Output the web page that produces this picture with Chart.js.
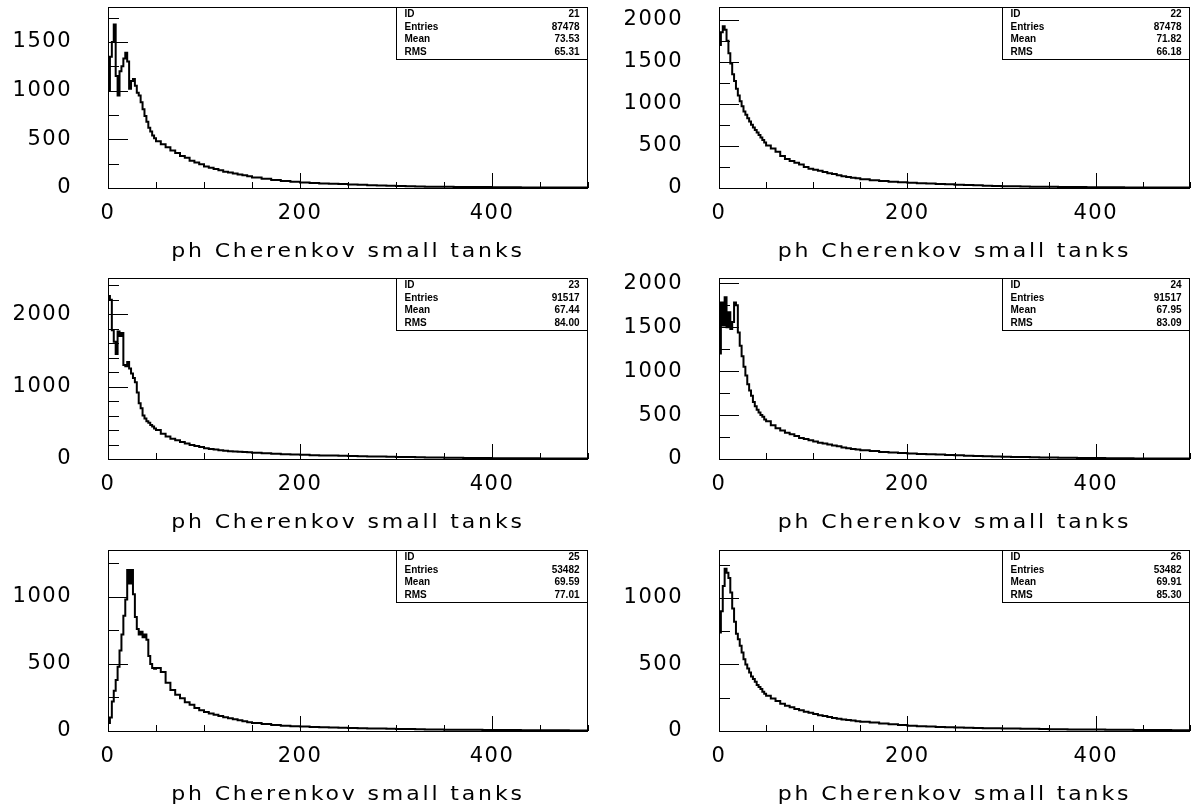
<!DOCTYPE html>
<html>
<head>
<meta charset="utf-8">
<script src="https://cdn.jsdelivr.net/npm/chart.js@4.4.0/dist/chart.umd.min.js"></script>
<style>
  html, body { margin: 0; padding: 0; background: #fff; overflow: hidden; }
  body { width: 1202px; height: 807px; position: relative; }
  canvas { position: absolute; }
</style>
</head>
<body>
<canvas id="c0" width="601" height="270" style="left:0px;top:0px"></canvas>
<canvas id="c1" width="601" height="270" style="left:601px;top:0px"></canvas>
<canvas id="c2" width="601" height="270" style="left:0px;top:271px"></canvas>
<canvas id="c3" width="601" height="270" style="left:601px;top:271px"></canvas>
<canvas id="c4" width="601" height="270" style="left:0px;top:543px"></canvas>
<canvas id="c5" width="601" height="270" style="left:601px;top:543px"></canvas>
<script>
// counts per unit of ph: 2-wide bins 0-50, 5-wide bins 50-150, 10-wide bins 150-500
const h21Head = [1000, 1350, 1500, 1680, 1150, 950, 1200, 1250, 1330, 1390, 1300, 1020, 1100, 1120, 1050,
  980, 950, 880, 810, 740, 680, 620, 580, 540, 510];
const h21Mid = [480, 450, 420, 385, 360, 330, 310, 280, 262, 245, 222, 208, 195, 182, 168, 158, 150, 140, 130, 122];
const h21Tail = [108, 95, 82, 72, 63, 57, 52, 47, 44, 41, 37, 33, 29, 26, 23, 21, 18, 16, 14, 13,
  12, 11, 10, 9, 9, 8, 7, 7, 6, 6, 5, 5, 4, 4, 4];

const h22Head = [1700, 1850, 1920, 1880, 1750, 1600, 1480, 1350, 1270, 1180, 1100, 1030, 970, 910, 870,
  830, 790, 750, 720, 690, 660, 630, 600, 570, 540];
const h22Mid = [505, 470, 430, 380, 345, 320, 300, 280, 250, 230, 218, 205, 190, 175, 165, 152, 140, 132, 122, 115];
const h22Tail = [105, 92, 82, 74, 68, 62, 56, 52, 48, 44, 40, 36, 32, 28, 25, 22, 20, 18, 16, 15,
  14, 13, 12, 11, 10, 10, 9, 8, 7, 7, 6, 6, 5, 5, 5];

const h23Head = [2250, 2200, 1780, 1620, 1450, 1760, 1700, 1740, 1300, 1280, 1340, 1250, 1180, 1120, 1060,
  920, 770, 700, 600, 560, 520, 500, 470, 450, 420];
const h23Mid = [400, 350, 310, 280, 258, 235, 215, 192, 178, 165, 150, 138, 130, 120, 115, 108, 104, 100, 96, 92];
const h23Tail = [86, 79, 72, 66, 61, 57, 53, 50, 47, 44, 41, 38, 36, 34, 32, 29, 27, 25, 22, 20,
  18, 16, 15, 14, 13, 12, 11, 10, 10, 9, 8, 8, 7, 7, 6];

const h24Head = [1200, 1780, 1520, 1840, 1500, 1670, 1480, 1560, 1780, 1750, 1440, 1290, 1170, 1050, 950,
  850, 780, 720, 650, 600, 560, 530, 500, 480, 450];
const h24Mid = [430, 385, 350, 325, 300, 282, 262, 240, 228, 212, 198, 185, 175, 165, 155, 145, 132, 122, 115, 108];
const h24Tail = [100, 90, 80, 73, 68, 63, 58, 54, 50, 46, 42, 38, 35, 32, 29, 26, 24, 22, 20, 18,
  16, 14, 13, 12, 11, 10, 9, 8, 8, 7, 6, 6, 5, 5, 5];

const h25Head = [60, 100, 220, 300, 380, 480, 600, 720, 860, 980, 1200, 1100, 1200, 1020, 850,
  760, 720, 740, 700, 720, 680, 560, 500, 470, 465];
const h25Mid = [470, 440, 360, 305, 270, 245, 215, 195, 172, 155, 142, 130, 122, 112, 102, 95, 88, 80, 72, 65];
const h25Tail = [60, 52, 45, 40, 36, 33, 30, 28, 26, 24, 22, 20, 19, 18, 17, 15, 14, 13, 12, 11,
  10, 10, 9, 9, 8, 8, 7, 7, 6, 6, 5, 5, 5, 4, 4];

const h26Head = [740, 900, 1090, 1220, 1190, 1150, 1040, 920, 820, 730, 690, 640, 590, 540, 500,
  470, 440, 410, 390, 370, 345, 330, 315, 295, 280];
const h26Mid = [265, 245, 225, 205, 190, 178, 165, 155, 145, 137, 128, 118, 112, 105, 98, 92, 87, 82, 78, 74];
const h26Tail = [70, 63, 56, 50, 45, 40, 36, 33, 30, 28, 26, 24, 22, 21, 20, 19, 18, 17, 16, 15,
  14, 13, 12, 12, 11, 11, 10, 9, 9, 8, 8, 7, 7, 6, 6];

const heads = [h21Head, h22Head, h23Head, h24Head, h25Head, h26Head];
const mids = [h21Mid, h22Mid, h23Mid, h24Mid, h25Mid, h26Mid];
const tails = [h21Tail, h22Tail, h23Tail, h24Tail, h25Tail, h26Tail];

const histIds = ["21", "22", "23", "24", "25", "26"];
const entries = ["87478", "87478", "91517", "91517", "53482", "53482"];
const means = ["73.53", "71.82", "67.44", "67.95", "69.59", "69.91"];
const rmsValues = ["65.31", "66.18", "84.00", "83.09", "77.01", "85.30"];
const statLabels = ["ID", "Entries", "Mean", "RMS"];

const yMaxes = [1860, 2150, 2500, 2060, 1350, 1360];
const yLabelSteps = [500, 500, 1000, 500, 500, 500];
const yMinorSteps = [250, 250, 200, 250, 250, 250];
const xLabelValues = [0, 200, 400];
const xTitle = "ph Cherenkov small tanks";

// frame placement inside each 601x270 canvas, left column then right column
const frameLefts = [108, 118];
const frameRights = [588, 589];
const FRAME_TOP = 7;
const FRAME_H = 181;
const xTickFont = { family: "'DejaVu Sans', sans-serif", size: 21 };
// tiny line height keeps the label overflow from pushing the frame down
const yTickFont = { family: "'DejaVu Sans', sans-serif", size: 21, lineHeight: "2px" };

const stepPoints = (head, mid, tail) => {
  const pts = [{ x: 0, y: 0 }];
  head.forEach((v, i) => pts.push({ x: i * 2, y: v }));
  mid.forEach((v, i) => pts.push({ x: 50 + i * 5, y: v }));
  tail.forEach((v, i) => pts.push({ x: 150 + i * 10, y: v }));
  pts.push({ x: 500, y: tail[tail.length - 1] });
  return pts;
};

const tickRange = (max, step) => {
  const out = [];
  for (let v = 0; v <= max; v += step) out.push({ value: v });
  return out;
};

// PAW style frame: inward ticks, border, axis title and statistics box
const pawFrame = {
  id: "pawFrame",
  beforeDraw(chart) {
    chart.ctx.letterSpacing = "1.5px";
  },
  afterDraw(chart, args, opts) {
    const { ctx, chartArea: a } = chart;
    const xs = chart.scales.x;
    const ys = chart.scales.y;
    ctx.save();
    ctx.letterSpacing = "0px";
    ctx.strokeStyle = "#000";
    ctx.lineWidth = 1;
    ctx.strokeRect(a.left + 0.5, a.top + 0.5, a.right - a.left - 1, a.bottom - a.top);
    ctx.beginPath();
    ys.ticks.forEach((t) => {
      const y = Math.round(ys.getPixelForValue(t.value)) + 0.5;
      const len = t.value % opts.major === 0 ? 20 : 11;
      ctx.moveTo(a.left, y);
      ctx.lineTo(a.left + len, y);
    });
    xs.ticks.forEach((t) => {
      const x = Math.round(xs.getPixelForValue(t.value)) + 0.5;
      const len = t.value % 200 === 0 ? 15 : 6;
      ctx.moveTo(x, a.bottom);
      ctx.lineTo(x, a.bottom - len);
    });
    ctx.stroke();

    // axis title, stretched like the plotter font
    ctx.save();
    ctx.fillStyle = "#000";
    ctx.font = "20px 'DejaVu Sans', sans-serif";
    ctx.letterSpacing = "2.6px";
    ctx.textAlign = "center";
    ctx.textBaseline = "middle";
    ctx.translate((a.left + a.right) / 2, a.bottom + 64);
    ctx.scale(1.1, 1);
    ctx.fillText(opts.title, 0, 0);
    ctx.restore();

    const bx = Math.round(a.left + (a.right - a.left) * 0.6) + 0.5;
    const bw = a.right - 0.5 - bx;
    const bh = 52;
    ctx.fillStyle = "#fff";
    ctx.fillRect(bx, a.top + 0.5, bw, bh);
    ctx.strokeRect(bx, a.top + 0.5, bw, bh);
    ctx.fillStyle = "#000";
    ctx.font = "bold 10px 'Liberation Sans', sans-serif";
    ctx.textBaseline = "middle";
    opts.stats.forEach((val, i) => {
      const y = a.top + 7 + i * 12.8;
      ctx.textAlign = "left";
      ctx.fillText(statLabels[i], bx + 8, y);
      ctx.textAlign = "right";
      ctx.fillText(val, bx + bw - 8, y);
    });
    ctx.restore();
  },
};

histIds.forEach((id, k) => {
  const col = k % 2;
  new Chart(document.getElementById("c" + k), {
    type: "line",
    data: {
      datasets: [
        {
          label: "ID " + id,
          data: stepPoints(heads[k], mids[k], tails[k]),
          stepped: true,
          borderColor: "#000",
          borderWidth: 2,
          pointRadius: 0,
          fill: false,
        },
      ],
    },
    options: {
      responsive: false,
      animation: false,
      events: [],
      layout: {
        padding: { left: 0, top: FRAME_TOP, right: 601 - frameRights[col], bottom: 0 },
      },
      scales: {
        x: {
          type: "linear",
          min: 0,
          max: 500,
          afterFit: (s) => { s.height = 270 - FRAME_TOP - FRAME_H; },
          afterBuildTicks: (s) => { s.ticks = tickRange(500, 50); },
          grid: { display: false, drawTicks: true, tickLength: 4 },
          border: { display: false },
          ticks: {
            autoSkip: false,
            maxRotation: 0,
            minRotation: 0,
            padding: 9,
            color: "#000",
            font: xTickFont,
            callback: (v) => (xLabelValues.includes(v) ? String(v) : ""),
          },
        },
        y: {
          min: 0,
          max: yMaxes[k],
          afterFit: (s) => { s.width = frameLefts[col]; },
          afterBuildTicks: (s) => { s.ticks = tickRange(yMaxes[k], yMinorSteps[k]); },
          grid: { display: false, drawTicks: true, tickLength: 34 },
          border: { display: false },
          ticks: {
            autoSkip: false,
            padding: 2,
            color: "#000",
            font: yTickFont,
            callback: (v) => (v % yLabelSteps[k] === 0 ? String(v) : ""),
          },
        },
      },
      plugins: {
        legend: { display: false },
        tooltip: { enabled: false },
        pawFrame: {
          major: yLabelSteps[k],
          title: xTitle,
          stats: [id, entries[k], means[k], rmsValues[k]],
        },
      },
    },
    plugins: [pawFrame],
  });
});
</script>
</body>
</html>
